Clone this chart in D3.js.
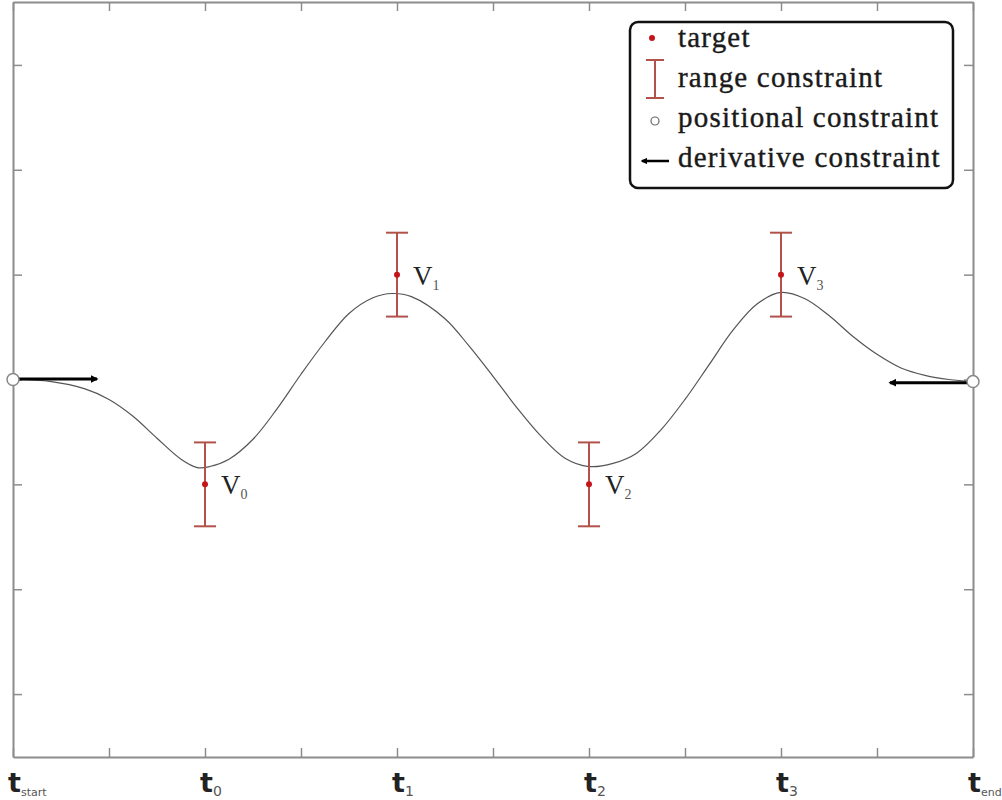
<!DOCTYPE html>
<html>
<head>
<meta charset="utf-8">
<script src="https://cdn.jsdelivr.net/npm/d3@7"></script>
<style>
  body { margin: 0; background: #fff; }
  svg { display: block; }
</style>
</head>
<body>
<div id="chart"></div>
<script>
// tick labels on the time axis
var labelTimes = [0, 2, 4, 6, 8, 10];
var labelSubs = ["start", "0", "1", "2", "3", "end"];

// targets and range constraints
var targetTimes = [2, 4, 6, 8];
var targetValues = [-1, 1, -1, 1];
var targetNames = ["0", "1", "2", "3"];
var rangeLow = [-1.4, 0.6, -1.4, 0.6];
var rangeHigh = [-0.6, 1.4, -0.6, 1.4];

// the solved curve
var curveT = [0, 0.4, 0.75, 1, 1.25, 1.5, 1.75, 1.92, 2.05, 2.25, 2.5, 2.75, 3, 3.25, 3.5, 3.75, 3.95, 4.15, 4.5, 4.75,
  5, 5.25, 5.5, 5.75, 6, 6.25, 6.5, 6.75, 7, 7.25, 7.5, 7.75, 8, 8.25, 8.5, 8.75, 9, 9.25, 9.5, 9.75, 10];
var curveY = [0, -0.02, -0.09, -0.19, -0.35, -0.56, -0.76, -0.84, -0.83, -0.76, -0.57, -0.28, 0.05, 0.36, 0.63, 0.78, 0.82, 0.79, 0.58, 0.32,
  0.03, -0.27, -0.54, -0.75, -0.83, -0.80, -0.70, -0.48, -0.19, 0.14, 0.47, 0.72, 0.83, 0.77, 0.61, 0.41, 0.24, 0.11, 0.04, 0.0, -0.02];

// positional and derivative constraints at the ends
var positionalT = [0, 10];
var positionalY = [0, -0.02];
var derivFrom = [0, 10];
var derivTo = [0.875, 9.135];
var derivY = [0.005, -0.03];

var xTicks = [0, 1, 2, 3, 4, 5, 6, 7, 8, 9, 10];
var yTicks = [-3, -2, -1, 0, 1, 2, 3];

var width = 1002, height = 800;
var axisColor = "#8c8c8c";
var rangeColor = "#b2524b";
var dotColor = "#c4141c";

var x = d3.scaleLinear().domain([0, 10]).range([13, 973]);
var y = d3.scaleLinear().domain([-3.6, 3.6]).range([757, 2]);

var svg = d3.select("#chart").append("svg")
  .attr("width", width)
  .attr("height", height);

var defs = svg.append("defs");
defs.append("marker")
  .attr("id", "head")
  .attr("viewBox", "0 0 10 10")
  .attr("refX", 8).attr("refY", 5)
  .attr("markerWidth", 2.6).attr("markerHeight", 2.6)
  .attr("orient", "auto")
  .append("path")
  .attr("d", "M0,0L10,5L0,10z")
  .attr("fill", "#000");

// frame with inward ticks on all sides
function styleAxis(g) {
  g.selectAll("path.domain").attr("stroke", axisColor).attr("stroke-width", 2);
  g.selectAll(".tick line").attr("stroke", axisColor).attr("stroke-width", 1.5);
}
svg.append("g").attr("transform", "translate(0,757)")
  .call(d3.axisTop(x).tickValues(xTicks).tickSize(9).tickSizeOuter(0).tickFormat(""))
  .call(styleAxis);
svg.append("g").attr("transform", "translate(0,2)")
  .call(d3.axisBottom(x).tickValues(xTicks).tickSize(9).tickSizeOuter(0).tickFormat(""))
  .call(styleAxis);
svg.append("g").attr("transform", "translate(13,0)")
  .call(d3.axisRight(y).tickValues(yTicks).tickSize(9).tickSizeOuter(0).tickFormat(""))
  .call(styleAxis);
svg.append("g").attr("transform", "translate(973,0)")
  .call(d3.axisLeft(y).tickValues(yTicks).tickSize(9).tickSizeOuter(0).tickFormat(""))
  .call(styleAxis);

// time labels
var tl = svg.append("g").selectAll("text")
  .data(labelTimes)
  .enter().append("text")
  .attr("x", function(d) { return x(d) - 5; })
  .attr("y", 792)
  .attr("fill", "#222");
tl.append("tspan")
  .style("font-family", "DejaVu Sans")
  .style("font-weight", "bold")
  .style("font-size", "27px")
  .text("t");
tl.append("tspan")
  .attr("dy", 4)
  .style("font-family", "DejaVu Sans")
  .style("font-size", function(d, i) { return (labelSubs[i].length > 1 ? 11 : 14) + "px"; })
  .attr("fill", "#555")
  .text(function(d, i) { return labelSubs[i]; });

// curve
var line = d3.line()
  .x(function(d, i) { return x(curveT[i]); })
  .y(function(d) { return y(d); })
  .curve(d3.curveCatmullRom.alpha(0.5));
svg.append("path")
  .datum(curveY)
  .attr("d", line)
  .attr("fill", "none")
  .attr("stroke", "#555")
  .attr("stroke-width", 1.2);

// derivative constraints
svg.append("g").selectAll("line")
  .data(derivFrom)
  .enter().append("line")
  .attr("x1", function(d) { return x(d); })
  .attr("x2", function(d, i) { return x(derivTo[i]); })
  .attr("y1", function(d, i) { return y(derivY[i]); })
  .attr("y2", function(d, i) { return y(derivY[i]); })
  .attr("stroke", "#000")
  .attr("stroke-width", 3)
  .attr("marker-end", "url(#head)");

// positional constraints
svg.append("g").selectAll("circle")
  .data(positionalT)
  .enter().append("circle")
  .attr("cx", function(d) { return x(d); })
  .attr("cy", function(d, i) { return y(positionalY[i]); })
  .attr("r", 6)
  .attr("fill", "#fff")
  .attr("stroke", "#888")
  .attr("stroke-width", 1.5);

// range constraints
var rg = svg.append("g").selectAll("g")
  .data(targetTimes)
  .enter().append("g")
  .attr("stroke", rangeColor)
  .attr("stroke-width", 2);
rg.append("line")
  .attr("x1", function(d) { return x(d); })
  .attr("x2", function(d) { return x(d); })
  .attr("y1", function(d, i) { return y(rangeLow[i]); })
  .attr("y2", function(d, i) { return y(rangeHigh[i]); });
rg.append("line")
  .attr("x1", function(d) { return x(d) - 11; })
  .attr("x2", function(d) { return x(d) + 11; })
  .attr("y1", function(d, i) { return y(rangeLow[i]); })
  .attr("y2", function(d, i) { return y(rangeLow[i]); });
rg.append("line")
  .attr("x1", function(d) { return x(d) - 11; })
  .attr("x2", function(d) { return x(d) + 11; })
  .attr("y1", function(d, i) { return y(rangeHigh[i]); })
  .attr("y2", function(d, i) { return y(rangeHigh[i]); });

// targets
svg.append("g").selectAll("circle")
  .data(targetTimes)
  .enter().append("circle")
  .attr("cx", function(d) { return x(d); })
  .attr("cy", function(d, i) { return y(targetValues[i]); })
  .attr("r", 3)
  .attr("fill", dotColor);

var vl = svg.append("g").selectAll("text")
  .data(targetTimes)
  .enter().append("text")
  .attr("x", function(d) { return x(d) + 16; })
  .attr("y", function(d, i) { return y(targetValues[i]) + 10; })
  .attr("fill", "#222")
  .style("font-family", "Liberation Serif");
vl.append("tspan").style("font-size", "27px").text("V");
vl.append("tspan").attr("dy", 5).style("font-size", "14px").attr("fill", "#555")
  .text(function(d, i) { return targetNames[i]; });

// legend
var lg = svg.append("g").attr("transform", "translate(630,22)");
lg.append("rect")
  .attr("width", 323).attr("height", 166)
  .attr("rx", 8)
  .attr("fill", "#fff")
  .attr("stroke", "#111")
  .attr("stroke-width", 2.5);
var legendItems = ["target", "range constraint", "positional constraint", "derivative constraint"];
lg.selectAll("text.item")
  .data(legendItems)
  .enter().append("text")
  .attr("class", "item")
  .attr("x", 48)
  .attr("y", function(d, i) { return 25 + i * 40; })
  .attr("fill", "#1a1a1a")
  .attr("stroke", "#1a1a1a")
  .attr("stroke-width", 0.4)
  .style("font-family", "Liberation Serif")
  .style("font-size", "29px")
  .style("letter-spacing", "1.2px")
  .text(function(d) { return d; });
lg.append("circle").attr("cx", 22).attr("cy", 16).attr("r", 3).attr("fill", dotColor);
lg.append("path")
  .attr("d", "M16,38H34M25,38V76M16,76H34")
  .attr("fill", "none").attr("stroke", rangeColor).attr("stroke-width", 2);
lg.append("circle").attr("cx", 25).attr("cy", 99).attr("r", 4)
  .attr("fill", "#fff").attr("stroke", "#666").attr("stroke-width", 1.2);
lg.append("line")
  .attr("x1", 39).attr("x2", 12).attr("y1", 139).attr("y2", 139)
  .attr("stroke", "#000").attr("stroke-width", 2.5)
  .attr("marker-end", "url(#head)");
</script>
</body>
</html>
